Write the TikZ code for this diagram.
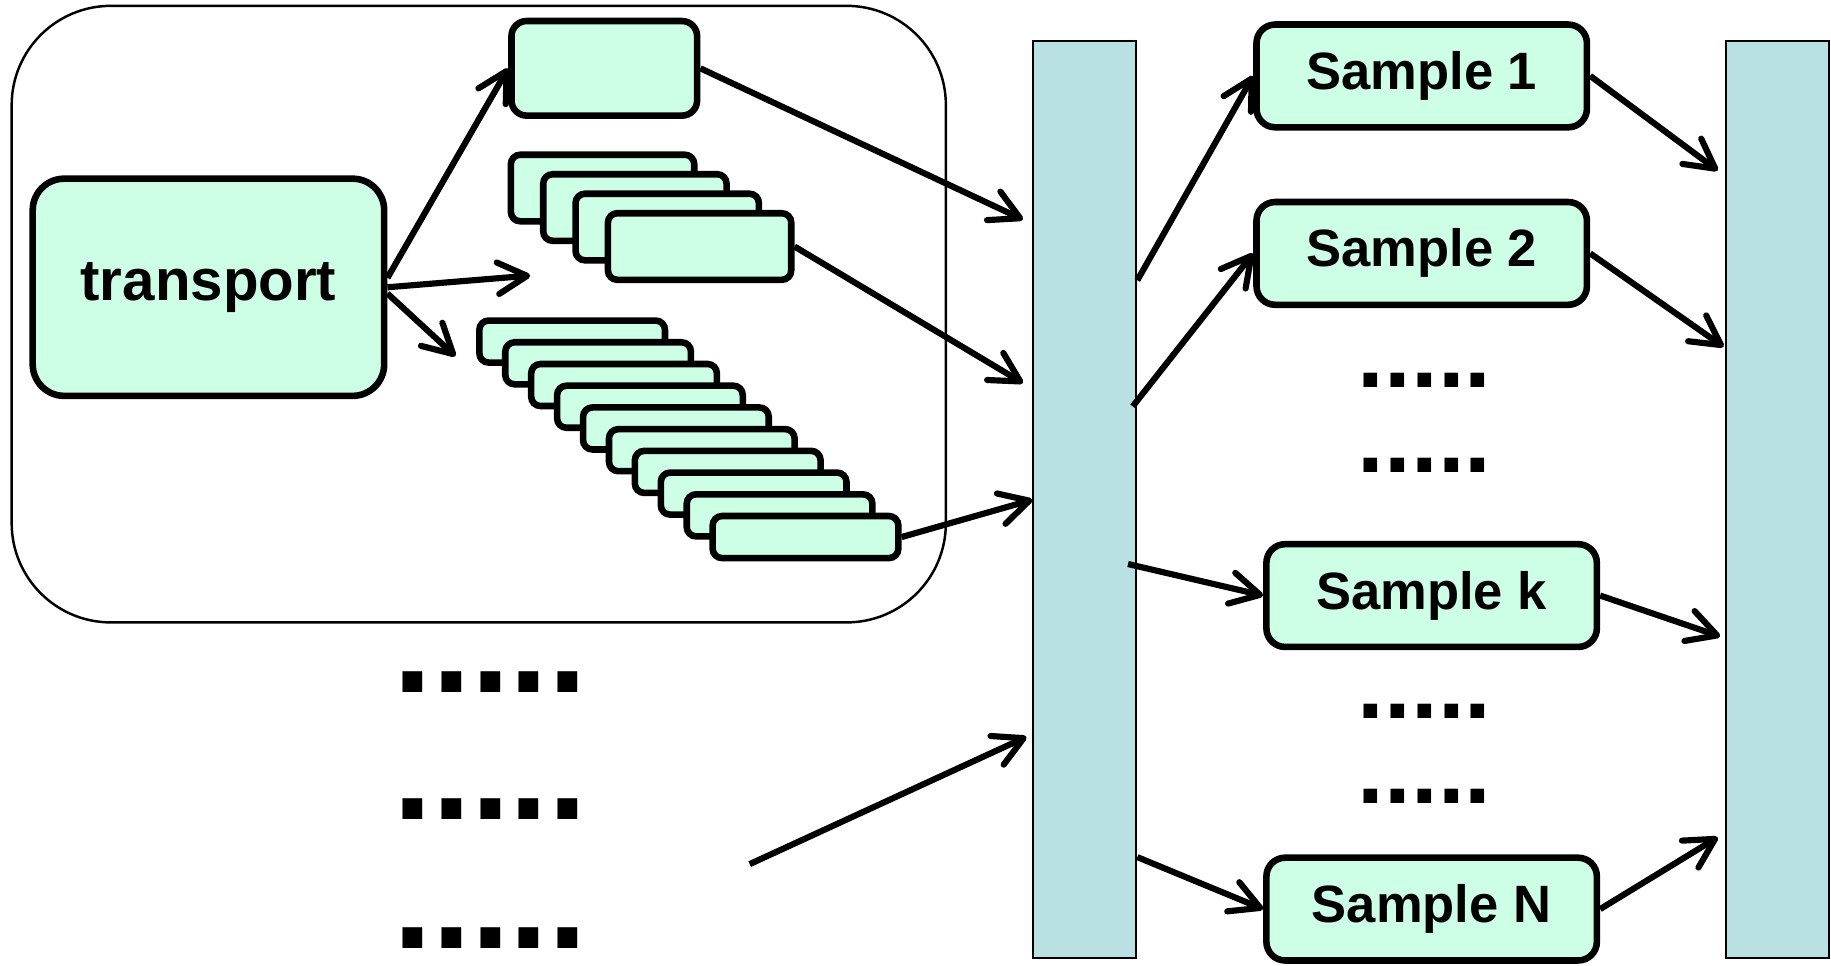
\documentclass[tikz,border=0pt]{standalone}
\usepackage{fontspec}
\setmainfont{Liberation Sans}
\usepackage{tikz}
\usetikzlibrary{arrows.meta}
\definecolor{mint}{RGB}{204,255,230}
\definecolor{barblue}{RGB}{185,224,226}

\tikzset{
	box/.style={draw, line width=1.6pt, fill=mint, rounded corners=1.6mm, inner sep=0pt,
		font=\bfseries\fontsize{12.8}{15}\selectfont},
	stackbox/.style={box, rounded corners=0.8mm},
	bar/.style={draw, line width=0.5pt, fill=barblue, inner sep=0pt,
		minimum width=8.8mm, minimum height=78.5mm},
	arr/.style={line width=1.5pt, -{Straight Barb[length=2.5mm,width=2.7mm,round]}},
	bigdots/.style={font=\bfseries\fontsize{34}{40}\selectfont, inner sep=0pt, anchor=base},
	smalldots/.style={font=\bfseries\fontsize{23.4}{28}\selectfont, inner sep=0pt, anchor=base}
}

\begin{document}
\begin{tikzpicture}[x=0.1mm,y=-0.1mm]
			\useasboundingbox (0,0) rectangle (1568,827);
			
			% draw group frame
			\draw[line width=0.6pt, rounded corners=8.5mm] (10,5) rectangle (810,533);
			
			% draw transport and its boxes
			\node[box, rounded corners=2.7mm, minimum width=30.1mm, minimum height=18.6mm,
				font=\bfseries\fontsize{14.2}{17}\selectfont] (transport) at (178.5,246) {transport};
			\node[box, rounded corners=1.3mm, minimum width=15.9mm, minimum height=8.1mm] (top) at (517.5,58.5) {};
			\foreach \i in {0,...,3}
			\node[stackbox, minimum width=15.7mm, minimum height=5.7mm] (m\i) at ({516+27.7*\i},{161+16.7*\i}) {};
			\foreach \i in {0,...,9}
			\node[stackbox, minimum width=15.9mm, minimum height=3.6mm] (s\i) at ({490+22.2*\i},{292.5+18.6*\i}) {};
			
			% draw bars
			\node[bar] (lbar) at (929,427.5) {};
			\node[bar] (rbar) at (1522,427.5) {};
			
			% draw samples
			\node[box, minimum width=28.3mm, minimum height=8.8mm] (sam1) at (1217.5,65) {Sample 1};
			\node[box, minimum width=28.3mm, minimum height=8.8mm] (sam2) at (1217.5,217) {Sample 2};
			\node[box, minimum width=28.3mm, minimum height=8.8mm] (samk) at (1226,510) {Sample k};
			\node[box, minimum width=28.3mm, minimum height=8.8mm] (samN) at (1226,778.5) {Sample N};
			
			% draw dots
			\foreach \y in {592.6,702,812}
			\node[bigdots] at (420,\y) {.....};
			\foreach \y in {332,405,615,688}
			\node[smalldots] at (1220,\y) {.....};
			
			% arrow ends
			\coordinate (t2) at (454,236);
			\coordinate (t3) at (390,305);
			\coordinate (f0) at (642,740);
			\coordinate (l1) at (876,188);
			\coordinate (l2) at (876,328);
			\coordinate (l3) at (884,428);
			\coordinate (l4) at (879,631);
			\coordinate (o1) at (974,240);
			\coordinate (o2) at (970,348);
			\coordinate (o3) at (966,483);
			\coordinate (o4) at (974,734);
			\coordinate (r1) at (1471,146);
			\coordinate (r2) at (1476,297);
			\coordinate (r3) at (1473,545);
			\coordinate (r4) at (1471,717);
			
			% draw arrows
			\draw[arr] (transport.3) -- (top.west);
			\draw[arr] (transport.east) -- (t2);
			\draw[arr] (transport.-2) -- (t3);
			\draw[arr] (top.east) -- (l1);
			\draw[arr] (m3.east) -- (l2);
			\draw[arr] (s9.east) -- (l3);
			\draw[arr] (f0) -- (l4);
			\draw[arr] (o1) -- (sam1.west);
			\draw[arr] (o2) -- (sam2.west);
			\draw[arr] (o3) -- (samk.west);
			\draw[arr] (o4) -- (samN.west);
			\draw[arr] (sam1.east) -- (r1);
			\draw[arr] (sam2.east) -- (r2);
			\draw[arr] (samk.east) -- (r3);
			\draw[arr] (samN.east) -- (r4);
\end{tikzpicture}
\end{document}
